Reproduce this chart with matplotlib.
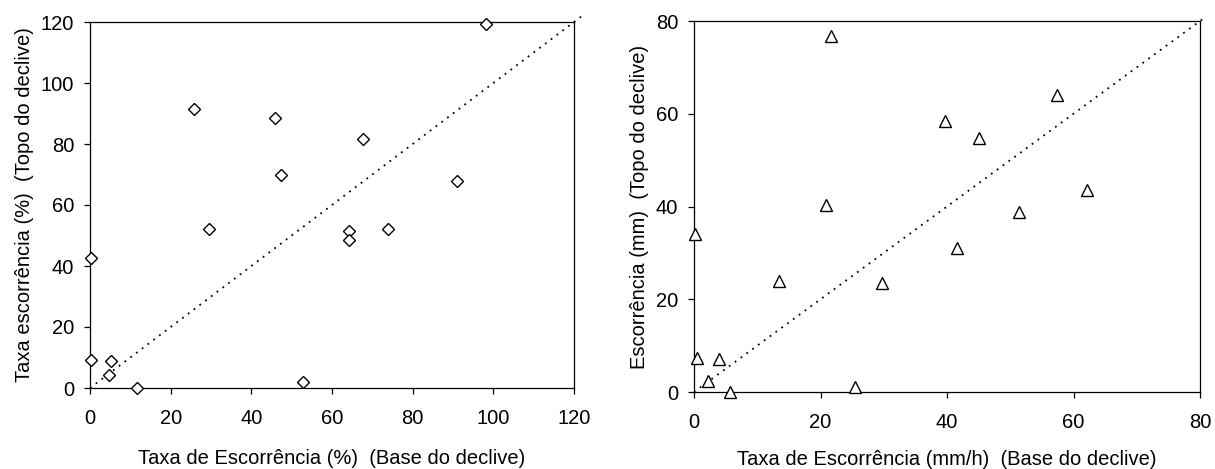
import matplotlib
matplotlib.use("Agg")
import matplotlib.pyplot as plt

plt.rcParams['font.family'] = ['Liberation Sans', 'DejaVu Sans']

# Left panel: runoff rate (%)
base_pct = [0.3, 0.3, 5.2, 4.8, 11.6, 25.8, 29.5, 45.9, 47.4, 52.9, 64.1, 64.1, 67.8, 73.8, 90.9, 98.1]
topo_pct = [42.7, 9.3, 8.7, 4.4, 0.0, 91.4, 52.0, 88.5, 69.7, 1.9, 51.6, 48.5, 81.6, 52.0, 67.9, 119.5]
line_pct = [0, 122]

# Right panel: runoff (mm) vs runoff rate (mm/h)
base_mm = [0.2, 0.4, 4.0, 2.2, 5.7, 13.5, 20.9, 21.7, 25.5, 29.8, 39.7, 41.6, 45.0, 51.4, 57.4, 62.1]
topo_mm = [34.1, 7.4, 7.2, 2.3, 0.0, 24.0, 40.4, 76.8, 1.1, 23.6, 58.5, 31.0, 54.7, 38.8, 64.0, 43.6]
line_mm = [0, 81]

ticks_pct = [0, 20, 40, 60, 80, 100, 120]
ticks_mm = [0, 20, 40, 60, 80]

W, H = 1215, 469
fig = plt.figure(figsize=(W / 100, H / 100), dpi=100)

def box(x0, y0, x1, y1):
    return [x0 / W, 1 - y1 / H, (x1 - x0) / W, (y1 - y0) / H]

ax1 = fig.add_axes(box(90, 22, 574, 388))
ax2 = fig.add_axes(box(694, 21, 1200, 392))

fs = 14.5

for ax in (ax1, ax2):
    for s in ax.spines.values():
        s.set_linewidth(0.9)
        s.set_color('black')
    ax.tick_params(direction='out', length=4.0, width=0.9, labelsize=fs, colors='black')
    ax.tick_params(axis='x', pad=11)
    ax.tick_params(axis='y', pad=7.5)

ax1.plot(line_pct, line_pct, linestyle=(0, (1, 3)), color='black', linewidth=1.3, clip_on=False, zorder=2)
ax1.plot(base_pct, topo_pct, linestyle='none', marker='D', ms=6.0, mfc='white', mec='black', mew=1.0, clip_on=False, zorder=3)
ax1.set_xlim(0, 120)
ax1.set_ylim(0, 120)
ax1.set_xticks(ticks_pct)
ax1.set_yticks(ticks_pct)
ax1.set_xlabel('Taxa de Escorrência (%)  (Base do declive)', fontsize=fs, labelpad=15)
ax1.set_ylabel('Taxa escorrência (%)  (Topo do declive)', fontsize=fs, labelpad=5)

ax2.plot(line_mm, line_mm, linestyle=(0, (1, 3)), color='black', linewidth=1.3, clip_on=False, zorder=2)
ax2.plot(base_mm, topo_mm, linestyle='none', marker='^', ms=8.0, mfc='white', mec='black', mew=1.0, clip_on=False, zorder=3)
ax2.set_xlim(0, 80)
ax2.set_ylim(0, 80)
ax2.set_xticks(ticks_mm)
ax2.set_yticks(ticks_mm)
ax2.set_xlabel('Taxa de Escorrência (mm/h)  (Base do declive)', fontsize=fs, labelpad=13)
ax2.set_ylabel('Escorrência (mm)  (Topo do declive)', fontsize=fs, labelpad=5)

fig.savefig('out.png', dpi=100)
